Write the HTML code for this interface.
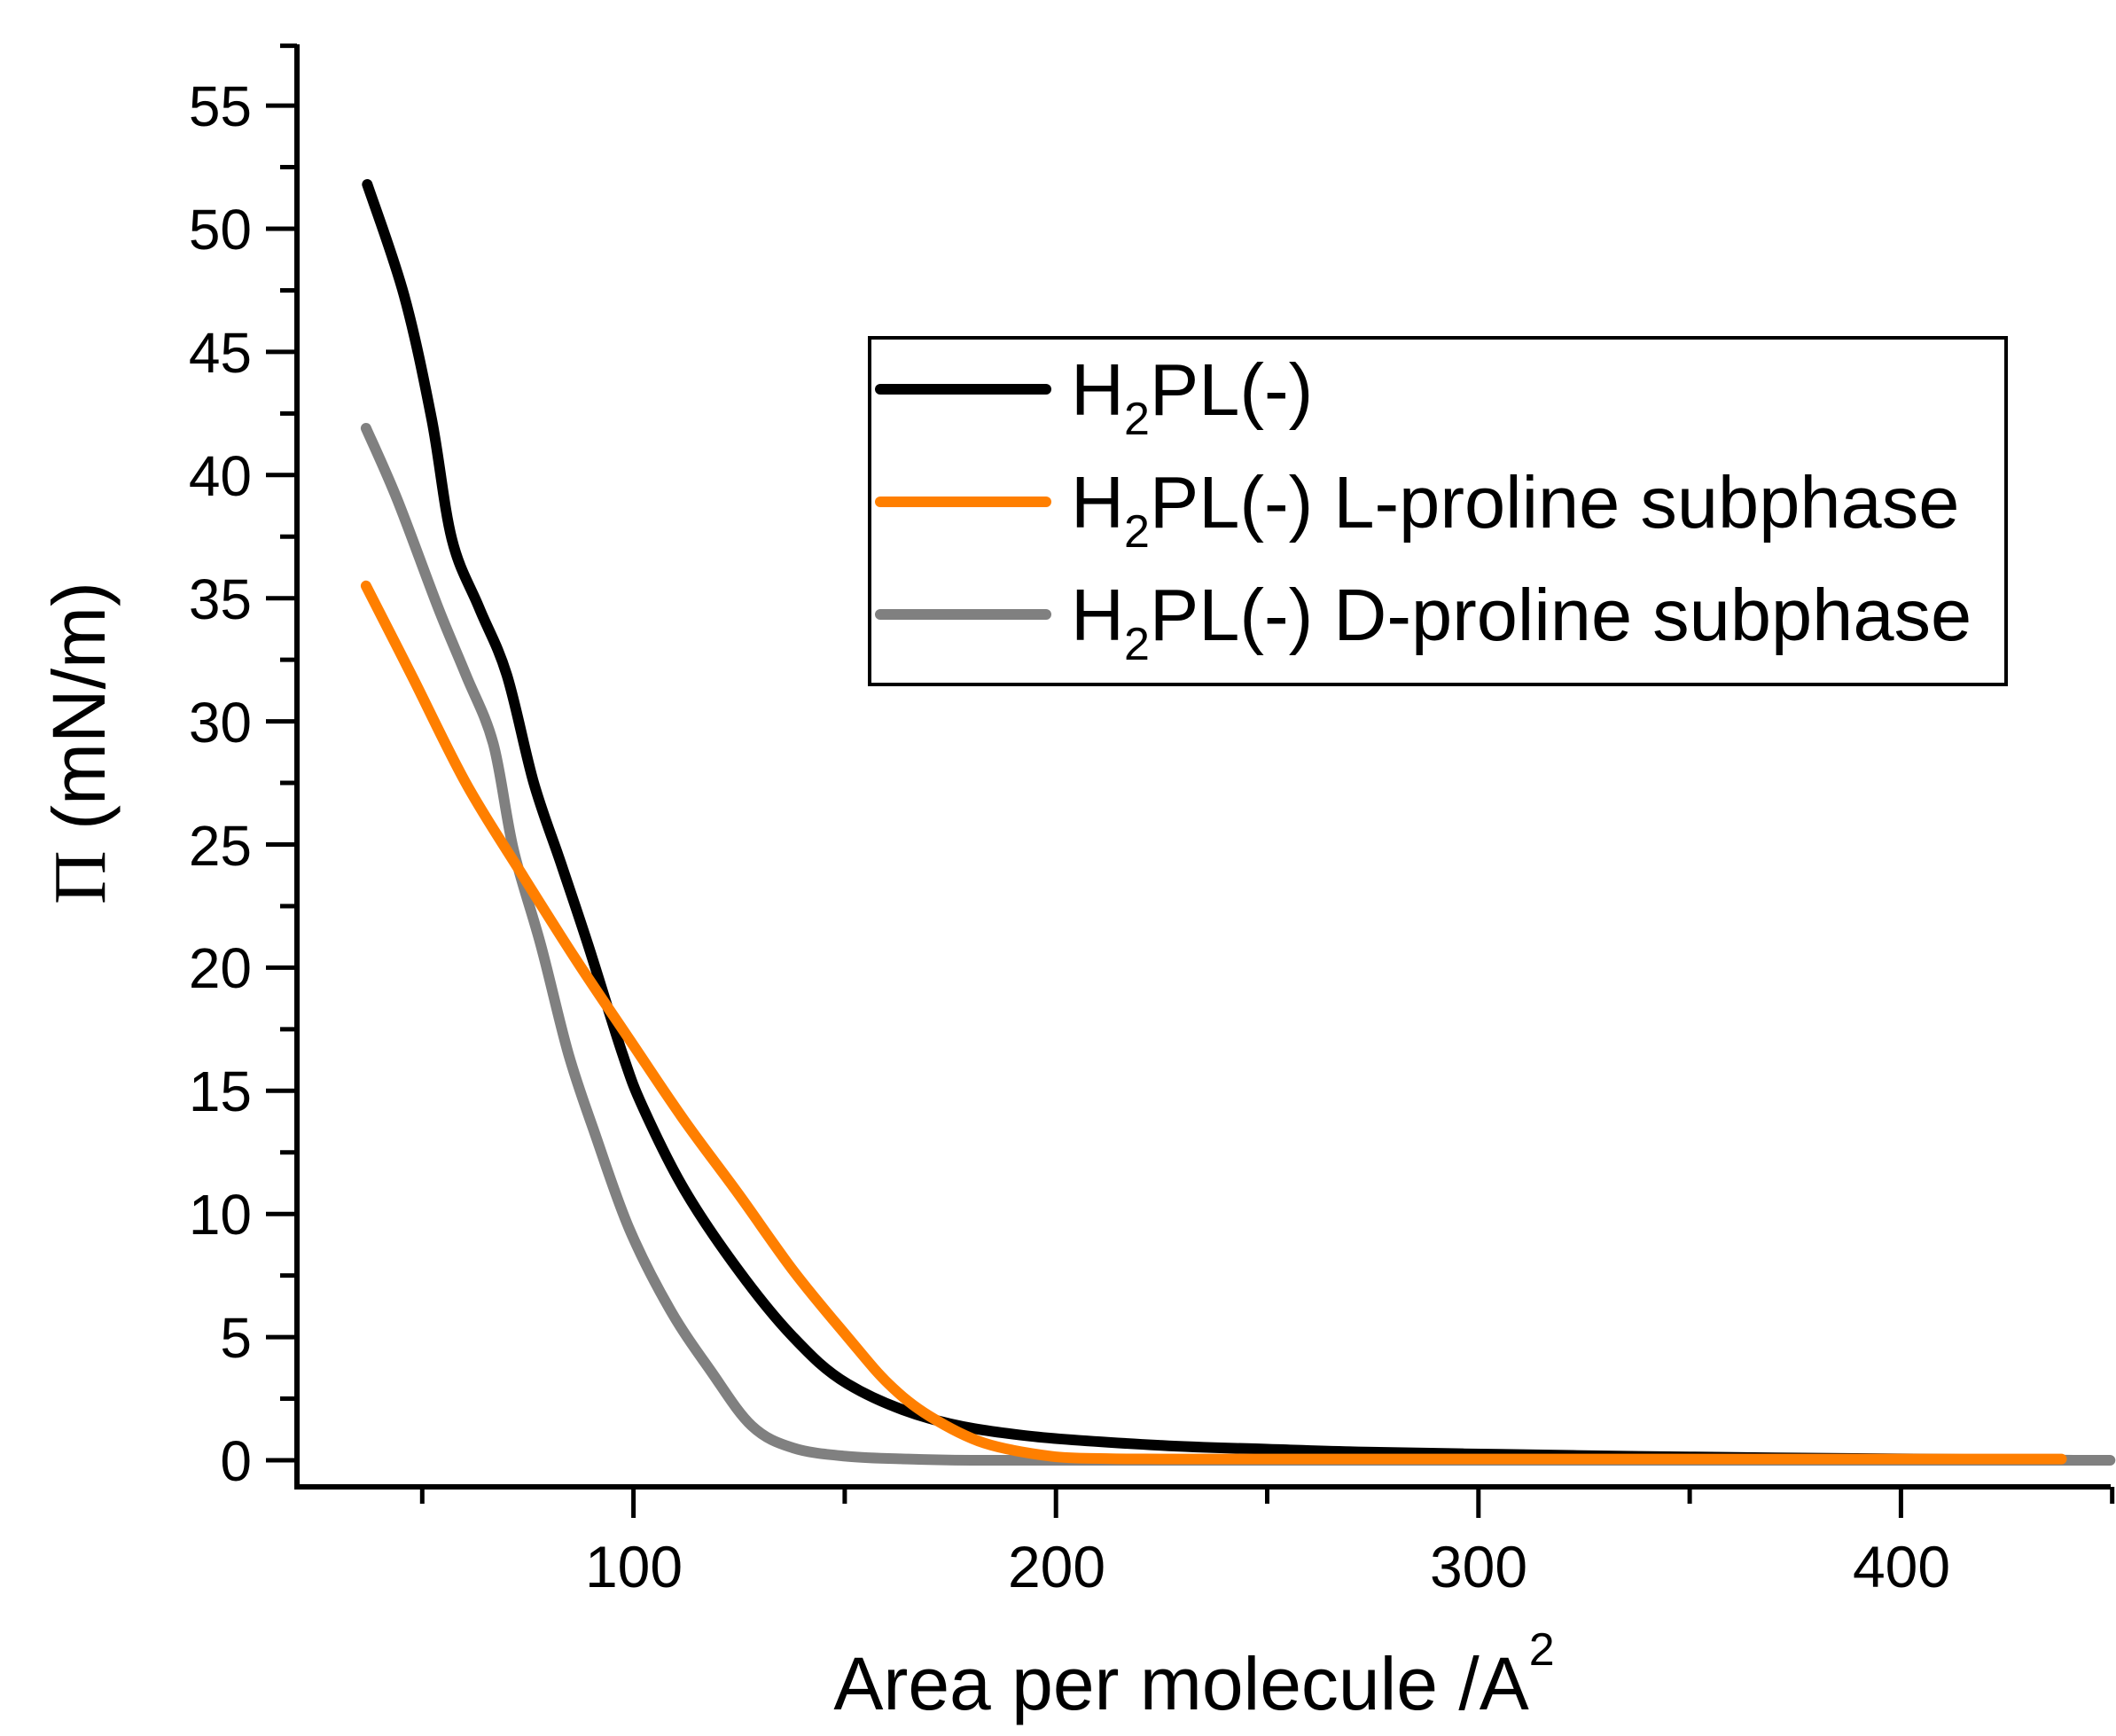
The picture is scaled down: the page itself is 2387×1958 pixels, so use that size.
<!DOCTYPE html>
<html><head><meta charset="utf-8"><style>
html,body{margin:0;padding:0;background:#fff;}
svg{display:block;font-family:"Liberation Sans",Arial,sans-serif;}
</style></head><body>
<svg id="s" width="2387" height="1958" viewBox="0 0 2387 1958" xmlns="http://www.w3.org/2000/svg">
<rect width="2387" height="1958" fill="#fff"/>
<g id="ticks" stroke="#000" stroke-width="5"></g>
<g id="curves" fill="none" stroke-width="12" stroke-linejoin="round" stroke-linecap="round"></g>
<line x1="335" y1="50" x2="335" y2="1680" stroke="#000" stroke-width="6"/>
<line x1="332" y1="1677" x2="2381" y2="1677" stroke="#000" stroke-width="6"/>
<g font-size="64" text-anchor="end" fill="#000">
<text x="284" y="1670">0</text><text x="284" y="1531">5</text><text x="284" y="1392">10</text>
<text x="284" y="1253">15</text><text x="284" y="1114">20</text><text x="284" y="976">25</text>
<text x="284" y="837">30</text><text x="284" y="698">35</text><text x="284" y="559">40</text>
<text x="284" y="420">45</text><text x="284" y="281">50</text><text x="284" y="142">55</text>
</g>
<g font-size="66" text-anchor="middle" fill="#000">
<text x="715" y="1790">100</text><text x="1192" y="1790">200</text>
<text x="1668" y="1790">300</text><text x="2145" y="1790">400</text>
</g>
<text x="1347" y="1928" font-size="84" text-anchor="middle">Area per molecule /A<tspan font-size="52" dy="-50">2</tspan></text>
<text transform="translate(118,838) rotate(-90)" font-size="84" text-anchor="middle"><tspan font-family="Liberation Serif,serif">Π</tspan> (mN/m)</text>
<rect x="981" y="381" width="1282" height="391" fill="#fff" stroke="#000" stroke-width="4"/>
<g stroke-width="12" stroke-linecap="round">
<line x1="993" y1="439" x2="1180" y2="439" stroke="#000"/>
<line x1="993" y1="566" x2="1180" y2="566" stroke="#ff7f00"/>
<line x1="993" y1="693" x2="1180" y2="693" stroke="#808080"/>
</g>
<g font-size="83" fill="#000">
<text x="1208" y="468">H<tspan font-size="52" dy="22">2</tspan><tspan dy="-22">PL(-)</tspan></text>
<text x="1208" y="595">H<tspan font-size="52" dy="22">2</tspan><tspan dy="-22">PL(-) L-proline subphase</tspan></text>
<text x="1208" y="722">H<tspan font-size="52" dy="22">2</tspan><tspan dy="-22">PL(-) D-proline subphase</tspan></text>
</g>
</svg>
<script>
var NS="http://www.w3.org/2000/svg";
function X(v){return 238+4.766*v;} function Y(v){return 1647-27.78*v;}
var t=document.getElementById('ticks');
function ln(a,b,c,d){var l=document.createElementNS(NS,'line');l.setAttribute('x1',a);l.setAttribute('y1',b);l.setAttribute('x2',c);l.setAttribute('y2',d);t.appendChild(l);}
for(var i=0;i<=22;i++){var y=Y(i*2.5);ln(i%2?316:300,y,335,y);}
ln(316,Y(57.5)+2,335,Y(57.5)+2);
for(var v=50;v<=450;v+=50){var x=X(v);ln(x,1677,x,v%100?1696:1712);}
var data={
"#000":[[37,51.8],[45.7,47.3],[52.2,42.3],[57,37.4],[63.5,34.6],[70,31.9],[76.4,27.5],[82.9,24.2],[89.3,20.9],[97.4,16.5],[102.3,14.3],[112,11],[124.9,7.7],[137.8,5],[150.7,3.1],[170,1.7],[192.7,1.0],[225,0.6],[250,0.45],[273.4,0.33],[305,0.24],[338,0.16],[370,0.1],[405,0.05],[441,0]],
"#808080":[[36.7,41.9],[44.1,39.0],[53.8,34.6],[60.3,31.9],[66.8,29.1],[71.6,24.8],[78.1,20.9],[84.6,16.5],[91,13.2],[99,9.4],[108.7,6.1],[118.4,3.6],[128,1.4],[137.8,0.5],[150.7,0.16],[165,0.05],[180,0],[200,0],[230,0],[270,0],[320,0],[370,0],[410,0],[449.5,0]],
"#ff7f00":[[36.7,35.5],[47.4,31.9],[60.3,27.5],[73.2,23.9],[86.1,20.4],[99,17.1],[112,13.8],[124.9,10.8],[137.8,7.7],[150.7,5],[160.4,3.1],[170,1.8],[183,0.7],[199,0.16],[212,0.07],[225,0.05],[260,0.05],[300,0.05],[340,0.05],[380,0.05],[410,0.05],[438,0.05]]};
var g=document.getElementById('curves');
function smooth(pts){var d='M'+X(pts[0][0]).toFixed(1)+','+Y(pts[0][1]).toFixed(1);
var P=pts.map(function(p){return [X(p[0]),Y(p[1])];});
for(var i=0;i<P.length-1;i++){var p0=P[i-1]||P[i],p1=P[i],p2=P[i+1],p3=P[i+2]||p2;
d+=' C'+(p1[0]+(p2[0]-p0[0])/6).toFixed(1)+','+(p1[1]+(p2[1]-p0[1])/6).toFixed(1)+' '+(p2[0]-(p3[0]-p1[0])/6).toFixed(1)+','+(p2[1]-(p3[1]-p1[1])/6).toFixed(1)+' '+p2[0].toFixed(1)+','+p2[1].toFixed(1);}
return d;}
["#000","#808080","#ff7f00"].forEach(function(c){var p=document.createElementNS(NS,'path');
p.setAttribute('d',smooth(data[c]));p.setAttribute('stroke',c);g.appendChild(p);});
</script>
</body></html>
